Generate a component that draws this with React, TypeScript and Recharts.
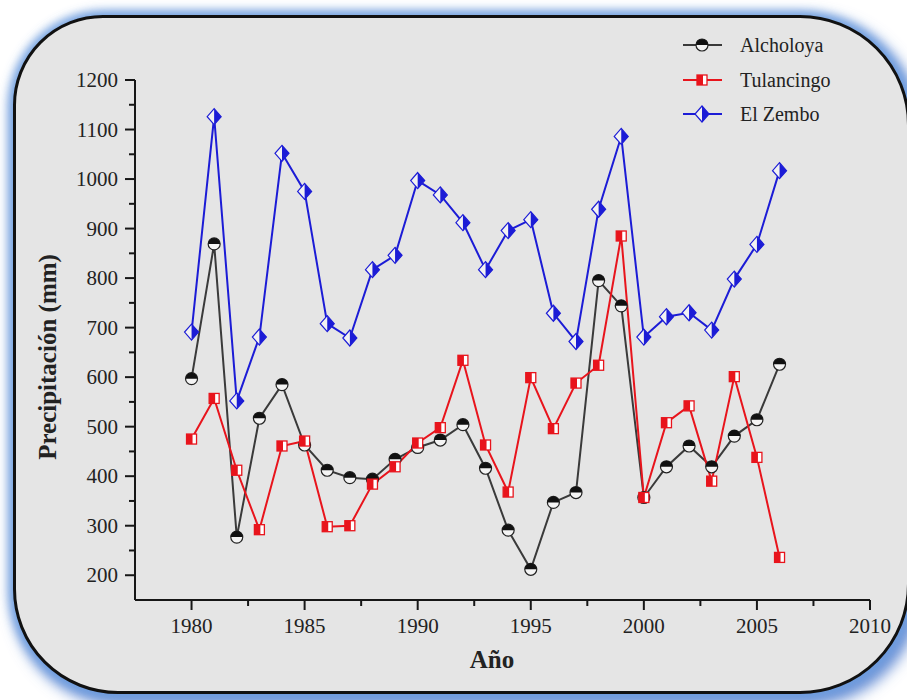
import React from 'react';
import { LineChart, Line, XAxis, YAxis, Legend, Label } from 'recharts';

const years = [1980, 1981, 1982, 1983, 1984, 1985, 1986, 1987, 1988, 1989, 1990, 1991, 1992, 1993, 1994, 1995, 1996, 1997, 1998, 1999, 2000, 2001, 2002, 2003, 2004, 2005, 2006];
const alcholoya = [597, 869, 277, 517, 585, 463, 412, 397, 394, 434, 458, 473, 504, 416, 291, 212, 347, 367, 795, 744, 357, 419, 461, 419, 481, 514, 626];
const tulancingo = [475, 557, 412, 292, 461, 471, 298, 300, 384, 419, 467, 498, 634, 463, 368, 599, 496, 588, 624, 885, 357, 508, 542, 390, 601, 438, 236];
const elZembo = [691, 1126, 552, 681, 1052, 975, 708, 679, 817, 846, 997, 968, 912, 817, 896, 918, 729, 672, 939, 1086, 681, 722, 730, 695, 798, 868, 1017];

const yTicks = [200, 250, 300, 350, 400, 450, 500, 550, 600, 650, 700, 750, 800, 850, 900, 950, 1000, 1050, 1100, 1150, 1200];
const xTicks = [1980, 1982.5, 1985, 1987.5, 1990, 1992.5, 1995, 1997.5, 2000, 2002.5, 2005, 2007.5, 2010];
const xLabels = [1980, 1985, 1990, 1995, 2000, 2005, 2010];
const yLabels = [200, 300, 400, 500, 600, 700, 800, 900, 1000, 1100, 1200];

const data = years.map((y, i) => ({ year: y, a: alcholoya[i], t: tulancingo[i], z: elZembo[i] }));

const W = 907;
const H = 700;
const PLOT_LEFT = 135;
const PLOT_RIGHT = 870;
const PLOT_TOP = 80;
const PLOT_BOTTOM = 600;
const FONT = '"Liberation Serif", "Times New Roman", serif';
const AXIS_COLOR = '#161616';

const BLACK = '#3a3a3a';
const RED = '#e8141c';
const BLUE = '#1c1cd6';

const circleMarker = (cx: number, cy: number, key?: any) => (
  <g key={key}>
    <circle cx={cx} cy={cy} r={6} fill="#f4f4f4" stroke="#222" strokeWidth={1.2} />
    <path d={`M ${cx - 6} ${cy} A 6 6 0 0 1 ${cx + 6} ${cy} Z`} fill="#111" />
  </g>
);
const squareMarker = (cx: number, cy: number, key?: any) => (
  <g key={key}>
    <rect x={cx - 5} y={cy - 5} width={10} height={10} fill="#fff" stroke={RED} strokeWidth={1.3} />
    <rect x={cx - 5} y={cy - 5} width={6} height={10} fill={RED} />
  </g>
);
const diamondMarker = (cx: number, cy: number, key?: any) => (
  <g key={key}>
    <polygon points={`${cx},${cy - 8} ${cx + 7},${cy} ${cx},${cy + 8} ${cx - 7},${cy}`} fill="#f2f2f2" stroke={BLUE} strokeWidth={1.2} />
    <polygon points={`${cx},${cy - 8} ${cx + 7},${cy} ${cx},${cy + 8}`} fill={BLUE} />
  </g>
);

const series = [
  { key: 'a', name: 'Alcholoya', color: BLACK, marker: circleMarker },
  { key: 't', name: 'Tulancingo', color: RED, marker: squareMarker },
  { key: 'z', name: 'El Zembo', color: BLUE, marker: diamondMarker },
];

const YTick = (props: any) => {
  const { y, payload } = props;
  const v = payload.value;
  const major = yLabels.includes(v);
  return (
    <g>
      <line x1={PLOT_LEFT - (major ? 10 : 6)} x2={PLOT_LEFT} y1={y} y2={y} stroke={AXIS_COLOR} strokeWidth={2} />
      {major && (
        <text x={PLOT_LEFT - 17} y={y} dy={7} textAnchor="end" fontFamily={FONT} fontSize={21} fill="#222">
          {v}
        </text>
      )}
    </g>
  );
};

const XTick = (props: any) => {
  const { x, payload } = props;
  const v = payload.value;
  const major = xLabels.includes(v);
  return (
    <g>
      <line x1={x} x2={x} y1={PLOT_BOTTOM} y2={PLOT_BOTTOM + (major ? 10 : 6)} stroke={AXIS_COLOR} strokeWidth={2} />
      {major && (
        <text x={x} y={PLOT_BOTTOM + 33} textAnchor="middle" fontFamily={FONT} fontSize={21} fill="#222">
          {v}
        </text>
      )}
    </g>
  );
};

const LegendContent = () => (
  <div style={{ fontFamily: FONT, fontSize: 20, color: '#222' }}>
    {series.map((s) => (
      <div key={s.key} style={{ display: 'flex', alignItems: 'center', height: 34.5 }}>
        <svg width={50} height={20} style={{ display: 'block' }}>
          <line x1={3} x2={42} y1={10} y2={10} stroke={s.color} strokeWidth={2} />
          {s.marker(22, 10)}
        </svg>
        <span style={{ marginLeft: 10, lineHeight: '20px' }}>{s.name}</span>
      </div>
    ))}
  </div>
);

export default function App() {
  return (
    <div style={{ position: 'absolute', left: 0, top: 0, width: W, height: H, overflow: 'hidden', background: '#fff' }}>
      <div
        style={{
          position: 'absolute',
          left: 13,
          top: 15,
          width: 897,
          height: 679,
          boxSizing: 'border-box',
          border: '3px solid #111',
          borderRadius: '90px 110px 110px 105px',
          background: '#e5e5e5',
          boxShadow: '0 0 9px 4px rgba(110,160,225,0.8), 5px 6px 14px 6px rgba(60,110,200,0.75)',
        }}
      />
      <div style={{ position: 'absolute', left: 0, top: 0 }}>
        <LineChart
          width={W}
          height={H}
          data={data}
          margin={{ top: PLOT_TOP, right: W - PLOT_RIGHT, left: 0, bottom: 0 }}
        >
          <XAxis
            dataKey="year"
            type="number"
            domain={[1977.5, 2010]}
            ticks={xTicks}
            interval={0}
            height={H - PLOT_BOTTOM}
            tickLine={false}
            axisLine={{ stroke: AXIS_COLOR, strokeWidth: 2 }}
            tick={<XTick />}
            allowDecimals
          >
            <Label
              content={() => (
                <text x={492} y={668} textAnchor="middle" fontFamily={FONT} fontSize={25} fontWeight="bold" fill="#222">
                  Año
                </text>
              )}
            />
          </XAxis>
          <YAxis
            type="number"
            domain={[150, 1200]}
            ticks={yTicks}
            interval={0}
            width={PLOT_LEFT}
            tickLine={false}
            axisLine={{ stroke: AXIS_COLOR, strokeWidth: 2 }}
            tick={<YTick />}
          >
            <Label
              content={() => (
                <text
                  x={56}
                  y={357}
                  transform="rotate(-90 56 357)"
                  textAnchor="middle"
                  fontFamily={FONT}
                  fontSize={25}
                  fontWeight="bold"
                  fill="#222"
                >
                  Precipitación (mm)
                </text>
              )}
            />
          </YAxis>
          <Legend
            layout="vertical"
            align="center"
            verticalAlign="middle"
            content={<LegendContent />}
            wrapperStyle={{ left: 680, top: 28, width: 200, height: 110 }}
          />
          {series.map((s) => (
            <Line
              key={s.key}
              dataKey={s.key}
              name={s.name}
              stroke={s.color}
              strokeWidth={2}
              isAnimationActive={false}
              dot={(p: any) => s.marker(p.cx, p.cy, `${s.key}-${p.index}`)}
              activeDot={false}
            />
          ))}
        </LineChart>
      </div>
    </div>
  );
}
